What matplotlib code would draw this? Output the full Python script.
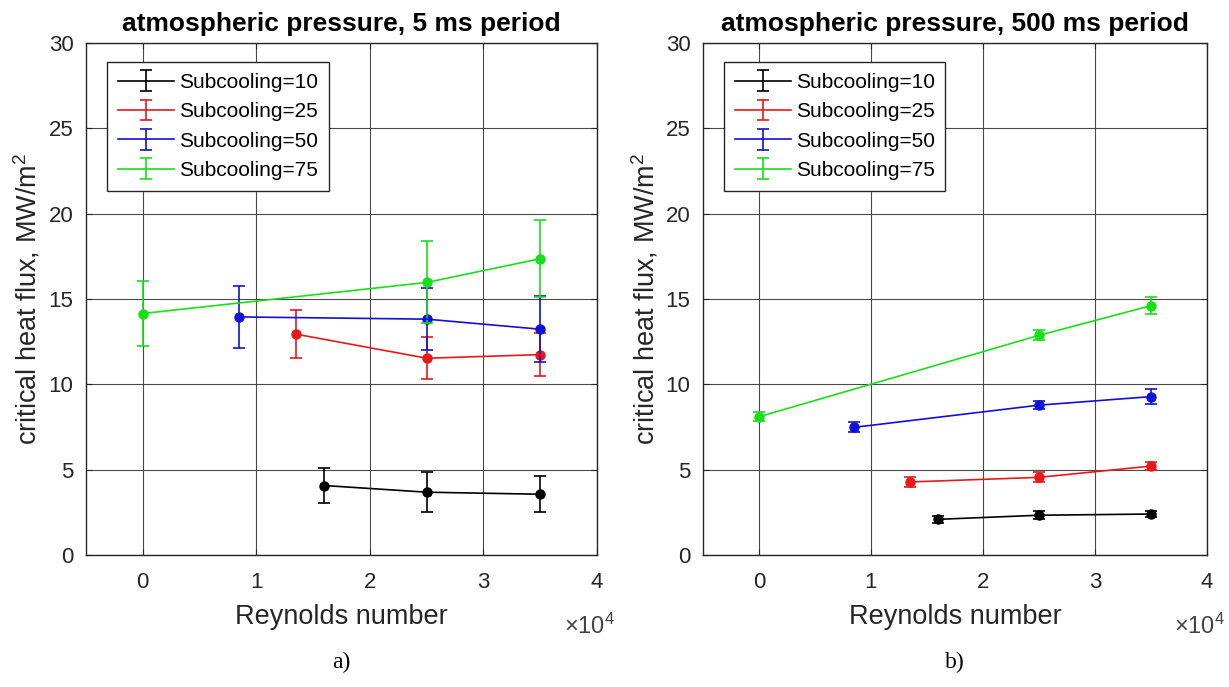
import matplotlib
matplotlib.use("Agg")
import matplotlib.pyplot as plt

# ---------------- data ----------------
labels = ["Subcooling=10", "Subcooling=25", "Subcooling=50", "Subcooling=75"]
colors = ["#000000", "#e81818", "#1010d8", "#18e018"]

# Reynolds number (x 1e4)
re_10 = [1.6, 2.5, 3.5]
re_25 = [1.35, 2.5, 3.5]
re_50 = [0.85, 2.5, 3.5]
re_75 = [0.0, 2.5, 3.5]

# a) 5 ms period
chf_a_10 = [4.07, 3.68, 3.56]
err_a_10 = [1.05, 1.16, 1.06]
chf_a_25 = [12.94, 11.53, 11.74]
err_a_25 = [1.40, 1.23, 1.25]
chf_a_50 = [13.95, 13.82, 13.23]
err_a_50 = [1.83, 1.80, 1.95]
chf_a_75 = [14.15, 15.97, 17.36]
err_a_75 = [1.90, 2.40, 2.25]

# b) 500 ms period
chf_b_10 = [2.09, 2.33, 2.40]
err_b_10 = [0.20, 0.22, 0.15]
chf_b_25 = [4.28, 4.55, 5.21]
err_b_25 = [0.30, 0.30, 0.25]
chf_b_50 = [7.48, 8.78, 9.28]
err_b_50 = [0.30, 0.25, 0.45]
chf_b_75 = [8.10, 12.87, 14.61]
err_b_75 = [0.25, 0.30, 0.48]

titles = ["atmospheric pressure, 5 ms period", "atmospheric pressure, 500 ms period"]
captions = ["a)", "b)"]
xticks = [0, 1, 2, 3, 4]
yticks = [0, 5, 10, 15, 20, 25, 30]

panels = [
    ([re_10, re_25, re_50, re_75],
     [chf_a_10, chf_a_25, chf_a_50, chf_a_75],
     [err_a_10, err_a_25, err_a_50, err_a_75]),
    ([re_10, re_25, re_50, re_75],
     [chf_b_10, chf_b_25, chf_b_50, chf_b_75],
     [err_b_10, err_b_25, err_b_50, err_b_75]),
]

plt.rcParams['font.family'] = ['Liberation Sans', 'DejaVu Sans']
plt.rcParams['mathtext.fontset'] = 'custom'
plt.rcParams['mathtext.rm'] = 'Liberation Sans'
plt.rcParams['mathtext.it'] = 'Liberation Sans'

fig = plt.figure(figsize=(12.29, 6.87), dpi=100)
positions = [
    [86 / 1229, 1 - 555 / 687, (597 - 86) / 1229, (555 - 43) / 687],
    [703 / 1229, 1 - 555 / 687, (1207 - 703) / 1229, (555 - 43) / 687],
]
ink = "#262626"

for i, (xs, ys, es) in enumerate(panels):
    ax = fig.add_axes(positions[i])
    for x, y, e, c, lab in zip(xs, ys, es, colors, labels):
        ax.errorbar(x, y, yerr=e, color=c, lw=1.2,
                    capsize=4.5, elinewidth=1.2, capthick=1.2, label=lab)
        ax.plot(x, y, linestyle='none', marker='o', ms=6.5, color=c)
    ax.set_xlim(-0.5, 4)
    ax.set_ylim(0, 30)
    ax.set_xticks(xticks)
    ax.set_yticks(yticks)
    ax.grid(True, color="#4a4a4a", lw=0.8)
    ax.set_axisbelow(True)
    ax.tick_params(direction='in', labelsize=16, colors=ink, length=4,
                   top=True, right=True)
    ax.tick_params(axis='x', pad=12)
    ax.tick_params(axis='y', pad=9)
    for sp in ax.spines.values():
        sp.set_color(ink)
        sp.set_linewidth(1.0)
    ax.set_title(titles[i], fontsize=19, fontweight='bold', pad=9)
    ax.set_ylabel("critical heat flux, MW/m$^{2}$", fontsize=19.5, color=ink)
    ax.yaxis.set_label_coords(-0.085, 0.5)
    ax.set_xlabel("Reynolds number", fontsize=19.5, color=ink)
    ax.xaxis.set_label_coords(0.5, -0.095)
    ax.text(0.935, -0.115, r"$\times$10$^{4}$", transform=ax.transAxes,
            fontsize=17, color="#444444", ha='left', va='top')
    leg = ax.legend(loc='upper left', bbox_to_anchor=(0.042, 0.962), fontsize=15,
                    handlelength=2.7, handletextpad=0.25, labelspacing=0.5,
                    borderpad=0.5, frameon=True, fancybox=False,
                    borderaxespad=0.0)
    leg.get_frame().set_edgecolor(ink)
    leg.get_frame().set_linewidth(1.0)
    leg.get_frame().set_alpha(1.0)
    cx = positions[i][0] + positions[i][2] * 0.5
    fig.text(cx, 1 - 662 / 687, captions[i], fontsize=17,
             family=['Liberation Serif', 'DejaVu Serif'], ha='center', va='center')

fig.savefig("out.png", dpi=100)
